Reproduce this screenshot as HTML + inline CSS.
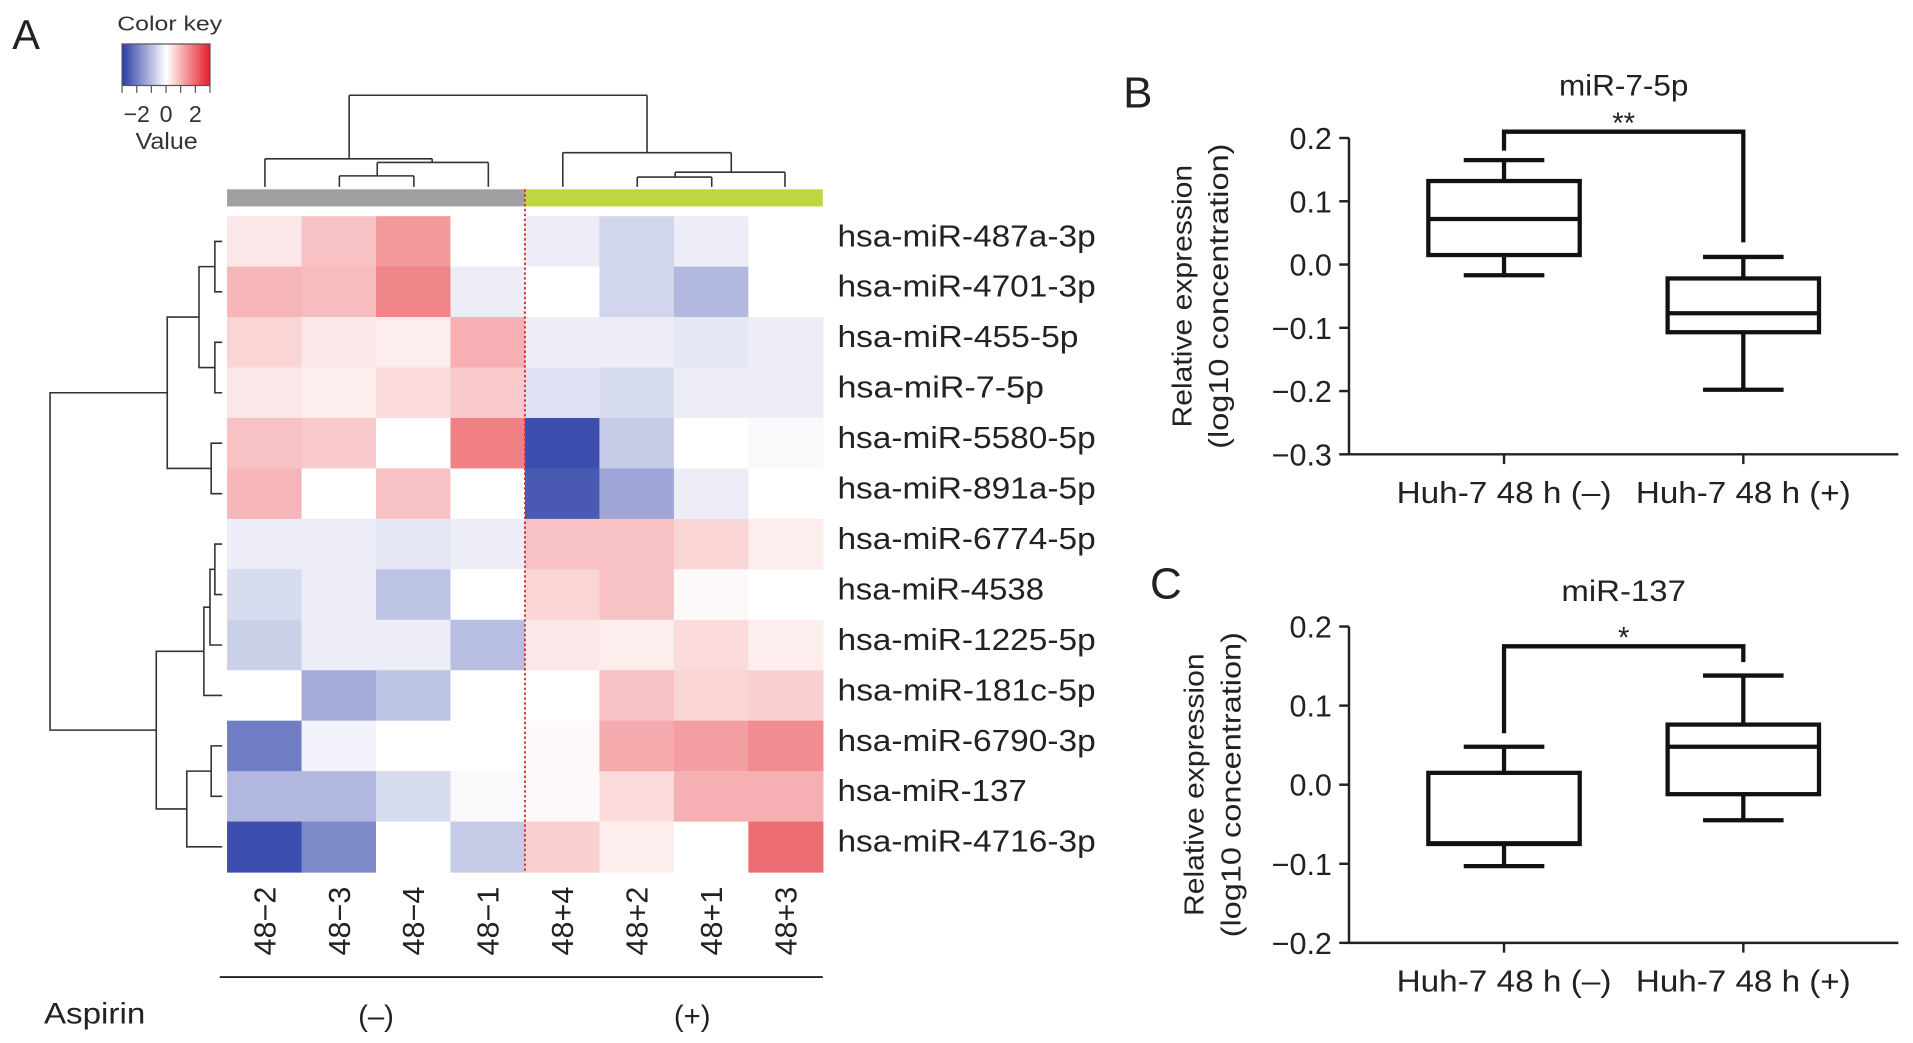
<!DOCTYPE html>
<html><head><meta charset="utf-8">
<style>
html,body{margin:0;padding:0;background:#fff;}
svg{display:block;font-family:"Liberation Sans",Arial,sans-serif;}
</style></head>
<body>
<svg id="fig" width="1913" height="1043" viewBox="0 0 1567 854" preserveAspectRatio="none" xmlns="http://www.w3.org/2000/svg">
<defs>
<linearGradient id="ck" x1="0" x2="1" y1="0" y2="0">
<stop offset="0" stop-color="#2a3ca6"/><stop offset="0.5" stop-color="#ffffff"/><stop offset="1" stop-color="#e41f26"/>
</linearGradient>
</defs>
<g id="panelA"></g>
<g id="panelB"></g>
<g id="panelC"></g>
</svg>
<script>
const heatCols = ["48\u22122","48\u22123","48\u22124","48\u22121","48+4","48+2","48+1","48+3"];
const heatRows = ["hsa-miR-487a-3p","hsa-miR-4701-3p","hsa-miR-455-5p","hsa-miR-7-5p","hsa-miR-5580-5p","hsa-miR-891a-5p","hsa-miR-6774-5p","hsa-miR-4538","hsa-miR-1225-5p","hsa-miR-181c-5p","hsa-miR-6790-3p","hsa-miR-137","hsa-miR-4716-3p"];
const heatValues = [
[0.4,1.0,1.7,0,-0.3,-0.7,-0.3,0],
[1.2,1.1,2.0,-0.3,0,-0.7,-1.2,0],
[0.7,0.4,0.3,1.3,-0.3,-0.3,-0.4,-0.3],
[0.4,0.3,0.6,0.9,-0.5,-0.6,-0.3,-0.3],
[1.0,0.9,0,2.1,-3.0,-0.9,0,-0.1],
[1.2,0,1.0,0,-2.8,-1.5,-0.3,0],
[-0.3,-0.3,-0.4,-0.3,1.0,1.0,0.7,0.3],
[-0.6,-0.3,-1.0,0,0.7,1.0,0.1,0],
[-0.8,-0.3,-0.3,-1.1,0.4,0.3,0.6,0.3],
[0,-1.4,-1.0,0,0,1.0,0.7,0.8],
[-2.2,-0.2,0,0,0.1,1.4,1.6,1.9],
[-1.2,-1.2,-0.6,-0.1,0.1,0.6,1.3,1.3],
[-3.0,-2.0,0,-0.9,0.8,0.3,0,2.4]
];
const keyTicks = ["\u22122","0","2"];
const yTicksB = [0.2,0.1,0.0,-0.1,-0.2,-0.3];
const boxB = [[-0.017,0.015,0.072,0.132,0.165],[-0.198,-0.107,-0.077,-0.022,0.012]];
const yTicksC = [0.2,0.1,0.0,-0.1,-0.2];
const boxC = [[-0.103,-0.075,-0.074,0.015,0.048],[-0.045,-0.012,0.048,0.076,0.138]];
const groupLabels = ["Huh-7 48 h (\u2013)","Huh-7 48 h (+)"];

const NS="http://www.w3.org/2000/svg";
function mk(parent,tag,attrs,text){const e=document.createElementNS(NS,tag);for(const k in attrs)e.setAttribute(k,attrs[k]);if(text!==undefined)e.textContent=text;parent.appendChild(e);return e;}
const W=(s,k)=>s.length*k;

// ---------- Panel A ----------
const A=document.getElementById('panelA');
let t=mk(A,'text',{x:10,y:40,'font-size':34,fill:'#222'},'A');


t=mk(A,'text',{x:96,y:25,'font-size':17,fill:'#333',textLength:86,lengthAdjust:'spacingAndGlyphs'},'Color key');


let r=mk(A,'rect',{x:100,y:36,width:72,height:34,fill:'url(#ck)',stroke:'#555','stroke-width':1});


const kMin=-3,kMax=3;
const kx=v=>100+(v-kMin)/(kMax-kMin)*72;
[-3,-2,-1,0,1,2,3].forEach(v=>mk(A,'line',{x1:kx(v),x2:kx(v),y1:70,y2:76,stroke:'#555','stroke-width':1}));
keyTicks.forEach((lab,i)=>{const v=[-2,0,2][i];t=mk(A,'text',{x:kx(v),y:100,'font-size':19,'text-anchor':'middle',fill:'#333'},lab);

});
t=mk(A,'text',{x:111,y:122,'font-size':19,fill:'#333',textLength:51,lengthAdjust:'spacingAndGlyphs'},'Value');



const hx0=186,hy0=177,cw=61,rh=(714-177)/13;
function heatColor(v){const m=v<0?3.3:3.7;let s=Math.min(1,Math.abs(v)/m);const end=v<0?[42,60,166]:[228,31,38];
const c=[0,1,2].map(i=>Math.round(255*(1-s)+end[i]*s));return `rgb(${c[0]},${c[1]},${c[2]})`;}
heatValues.forEach((row,ri)=>row.forEach((v,ci)=>{
 const c=mk(A,'rect',{x:hx0+ci*cw,y:hy0+ri*rh,width:cw+0.5,height:rh+0.5,fill:heatColor(v)});
 
 
}));
r=mk(A,'rect',{x:186,y:155,width:244,height:14,fill:'#a0a0a0'});


r=mk(A,'rect',{x:430,y:155,width:244,height:14,fill:'#bfd640'});


let l=mk(A,'line',{x1:430,x2:430,y1:155,y2:714,stroke:'#e0282c','stroke-width':1.5,'stroke-dasharray':'2,2'});


heatRows.forEach((name,i)=>{t=mk(A,'text',{x:686,y:hy0+(i+0.5)*rh+4,'font-size':25,fill:'#222',textLength:W(name,14.1),lengthAdjust:'spacingAndGlyphs'},name);

});
heatCols.forEach((name,i)=>{const cx=hx0+(i+0.5)*cw+9,cy=726;
t=mk(A,'text',{x:cx,y:cy,'font-size':25,'text-anchor':'end',fill:'#222',transform:`rotate(-90 ${cx} ${cy})`},name);

});
l=mk(A,'line',{x1:180,x2:674,y1:800,y2:800,stroke:'#222','stroke-width':1.5});


t=mk(A,'text',{x:36,y:838,'font-size':24,fill:'#222',textLength:83,lengthAdjust:'spacingAndGlyphs'},'Aspirin');


t=mk(A,'text',{x:308,y:840,'font-size':24,'text-anchor':'middle',fill:'#222'},'(\u2013)');


t=mk(A,'text',{x:567,y:840,'font-size':24,'text-anchor':'middle',fill:'#222'},'(+)');


const dg=mk(A,'g',{stroke:'#333','stroke-width':1.3,fill:'none'});


const colSegs=[[217,153,217,130],[278,153,278,144],[339,153,339,144],[278,144,339,144],[309,144,309,133],[400,153,400,133],[309,133,400,133],[354,133,354,130],[217,130,354,130],[286,130,286,78],
[461,153,461,125],[522,153,522,145],[583,153,583,145],[522,145,583,145],[553,145,553,141],[643,153,643,141],[553,141,643,141],[599,141,599,125],[461,125,599,125],[530,125,530,78],[286,78,530,78]];
colSegs.forEach(s=>mk(dg,'line',{x1:s[0],y1:s[1],x2:s[2],y2:s[3]}));
const ry=i=>hy0+(i+0.5)*rh;
function rowPath(x,a,b){return `M182 ${a} H${x} V${b} H182`;}
const rp=[];
rp.push(rowPath(176,ry(0),ry(1)));rp.push(rowPath(176,ry(2),ry(3)));rp.push(rowPath(173,ry(4),ry(5)));
const n01=(ry(0)+ry(1))/2,n23=(ry(2)+ry(3))/2,n45=(ry(4)+ry(5))/2;
rp.push(`M176 ${n01} H163 V${n23} H176`);
const n03=(n01+n23)/2;
rp.push(`M163 ${n03} H137 V${n45} H173`);
rp.push(rowPath(176,ry(6),ry(7)));
const n67=(ry(6)+ry(7))/2;
rp.push(`M176 ${n67} H172 V${ry(8)} H182`);
const n68=(n67+ry(8))/2;
rp.push(`M172 ${n68} H167 V${ry(9)} H182`);
const n69=(n68+ry(9))/2;
rp.push(rowPath(173,ry(10),ry(11)));
const n1011=(ry(10)+ry(11))/2;
rp.push(`M173 ${n1011} H153 V${ry(12)} H182`);
const n1012=(n1011+ry(12))/2;
rp.push(`M167 ${n69} H128 V${n1012} H153`);
const nTop1=(n03+n45)/2,nTop2=(n69+n1012)/2;
rp.push(`M137 ${nTop1} H41 V${nTop2} H128`);
rp.forEach(d=>mk(dg,'path',{d}));

// ---------- Box plots ----------
function boxPanel(G,opt){
 const {letter,lx,ly,title,titleY,top,bottom,ticks,boxes,br,stars,ylabX,titleW}=opt;
 const x0=1105,x1=1555,vmax=ticks[0],vmin=ticks[ticks.length-1];
 const Y=v=>top+(vmax-v)/(vmax-vmin)*(bottom-top);
 let e=mk(G,'text',{x:lx,y:ly,'font-size':36,fill:'#222'},letter);
 
 
 e=mk(G,'text',{x:1330,y:titleY,'font-size':24,'text-anchor':'middle',fill:'#222',textLength:titleW,lengthAdjust:'spacingAndGlyphs'},title);
 
 
 const ax=mk(G,'path',{d:`M${x0} ${top} V${bottom} H${x1}`,stroke:'#222','stroke-width':2,fill:'none'});
 
 
 ticks.forEach(v=>{mk(G,'line',{x1:x0-8,x2:x0,y1:Y(v),y2:Y(v),stroke:'#222','stroke-width':2});
  const lab=(v<0?'\u2212':'')+Math.abs(v).toFixed(1);
  e=mk(G,'text',{x:x0-14,y:Y(v)+9,'font-size':25,'text-anchor':'end',fill:'#222'},lab);
  
  });
 const cx=[1232,1428],bw=124,cap=33;
 groupLabels.forEach((g,i)=>{mk(G,'line',{x1:cx[i],x2:cx[i],y1:bottom,y2:bottom+8,stroke:'#222','stroke-width':2});
  e=mk(G,'text',{x:cx[i],y:bottom+40,'font-size':25,'text-anchor':'middle',fill:'#222',textLength:176,lengthAdjust:'spacingAndGlyphs'},g);
  
  });
 const ym=(top+bottom)/2;
 e=mk(G,'text',{x:ylabX,y:ym,'font-size':23,'text-anchor':'middle',fill:'#222',transform:`rotate(-90 ${ylabX} ${ym})`,textLength:215,lengthAdjust:'spacingAndGlyphs'},'Relative expression');
 
 
 e=mk(G,'text',{x:ylabX+30,y:ym,'font-size':23,'text-anchor':'middle',fill:'#222',transform:`rotate(-90 ${ylabX+30} ${ym})`,textLength:250,lengthAdjust:'spacingAndGlyphs'},'(log10 concentration)');
 
 
 boxes.forEach((b,i)=>{const g=mk(G,'g',{stroke:'#111','stroke-width':3.5,fill:'none'});
  
  
  mk(g,'rect',{x:cx[i]-bw/2,y:Y(b[3]),width:bw,height:Y(b[1])-Y(b[3])});
  mk(g,'line',{x1:cx[i]-bw/2,x2:cx[i]+bw/2,y1:Y(b[2]),y2:Y(b[2])});
  mk(g,'line',{x1:cx[i],x2:cx[i],y1:Y(b[3]),y2:Y(b[4])});
  mk(g,'line',{x1:cx[i],x2:cx[i],y1:Y(b[1]),y2:Y(b[0])});
  mk(g,'line',{x1:cx[i]-cap,x2:cx[i]+cap,y1:Y(b[4]),y2:Y(b[4])});
  mk(g,'line',{x1:cx[i]-cap,x2:cx[i]+cap,y1:Y(b[0]),y2:Y(b[0])});});
 const bp=mk(G,'path',{d:`M${cx[0]} ${Y(br[1])} V${Y(br[0])} H${cx[1]} V${Y(br[2])}`,stroke:'#111','stroke-width':3.5,fill:'none'});
 
 
 e=mk(G,'text',{x:1330,y:Y(br[0])+1,'font-size':24,'text-anchor':'middle',fill:'#222'},stars);
 
 
}
boxPanel(document.getElementById('panelB'),{letter:'B',lx:920,ly:88,title:'miR-7-5p',titleY:78,top:113,bottom:372,ticks:yTicksB,boxes:boxB,br:[0.21,0.18,0.035],stars:'**',ylabX:976,titleW:106});
boxPanel(document.getElementById('panelC'),{letter:'C',lx:942,ly:490,title:'miR-137',titleY:492,top:513,bottom:772,ticks:yTicksC,boxes:boxC,br:[0.175,0.065,0.155],stars:'*',ylabX:986,titleW:102});
</script>
</body></html>
